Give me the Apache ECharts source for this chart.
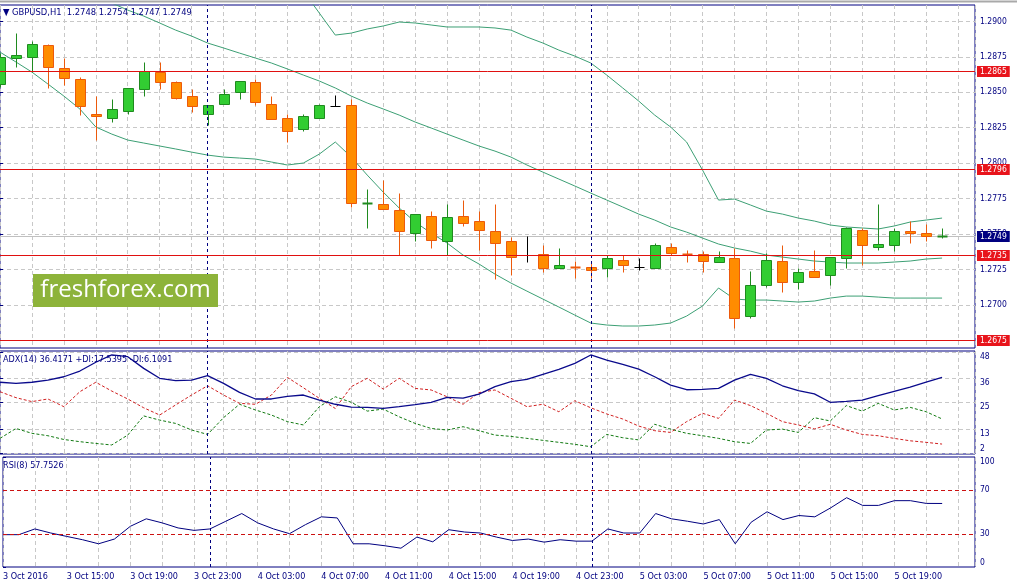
<!DOCTYPE html>
<html>
<head>
<meta charset="utf-8">
<script src="https://cdn.jsdelivr.net/npm/echarts@6/dist/echarts.min.js"></script>
<style>
html,body{margin:0;padding:0;background:#ffffff;}
#chart{width:1017px;height:587px;}
</style>
</head>
<body>
<div id="chart"></div>
<script>
// ---------------- data ----------------
const symbol = 'GBPUSD';
const timeframe = 'H1';
const year = '2016';
const times = [
  '3 Oct 11:00','3 Oct 12:00','3 Oct 13:00','3 Oct 14:00','3 Oct 15:00','3 Oct 16:00','3 Oct 17:00','3 Oct 18:00',
  '3 Oct 19:00','3 Oct 20:00','3 Oct 21:00','3 Oct 22:00','3 Oct 23:00',
  '4 Oct 00:00','4 Oct 01:00','4 Oct 02:00','4 Oct 03:00','4 Oct 04:00','4 Oct 05:00','4 Oct 06:00','4 Oct 07:00',
  '4 Oct 08:00','4 Oct 09:00','4 Oct 10:00','4 Oct 11:00','4 Oct 12:00','4 Oct 13:00','4 Oct 14:00','4 Oct 15:00',
  '4 Oct 16:00','4 Oct 17:00','4 Oct 18:00','4 Oct 19:00','4 Oct 20:00','4 Oct 21:00','4 Oct 22:00','4 Oct 23:00',
  '5 Oct 00:00','5 Oct 01:00','5 Oct 02:00','5 Oct 03:00','5 Oct 04:00','5 Oct 05:00','5 Oct 06:00','5 Oct 07:00',
  '5 Oct 08:00','5 Oct 09:00','5 Oct 10:00','5 Oct 11:00','5 Oct 12:00','5 Oct 13:00','5 Oct 14:00','5 Oct 15:00',
  '5 Oct 16:00','5 Oct 17:00','5 Oct 18:00','5 Oct 19:00','5 Oct 20:00','5 Oct 21:00','5 Oct 22:00'
];
const open = [1.2856,1.2874,1.2875,1.2883,1.2867,1.2859,1.2835,1.2832,1.2837,1.2852,1.2864,1.2857,1.2847,1.2835,1.2842,1.2850,
  1.2857,1.2842,1.2832,1.2824,1.2832,1.2840,1.2841,1.2771,1.2771,1.2767,1.2751,1.2763,1.2745,1.2763,1.2759,1.2752,
  1.2745,1.2735,1.2736,1.2726,1.2727,1.2727,1.2726,1.2732,1.2727,1.2726,1.2741,1.2736,1.2736,1.2730,1.2733,1.2692,
  1.2714,1.2731,1.2716,1.2724,1.2721,1.2733,1.2753,1.2741,1.2742,1.2752,1.2751,1.2748];
const high = [1.2878,1.2892,1.2886,1.2884,1.2874,1.2861,1.2847,1.2845,1.2853,1.2871,1.2871,1.2858,1.2852,1.2841,1.2852,1.2858,
  1.2859,1.2847,1.2835,1.2835,1.2842,1.2848,1.2845,1.2782,1.2788,1.2779,1.2764,1.2766,1.2771,1.2774,1.2766,1.2771,
  1.2748,1.2749,1.2742,1.2740,1.2731,1.2730,1.2735,1.2735,1.2733,1.2744,1.2744,1.2739,1.2738,1.2738,1.2740,1.2724,
  1.2737,1.2742,1.2726,1.2739,1.2734,1.2755,1.2754,1.2771,1.2754,1.2759,1.2757,1.2754];
const low = [1.2854,1.2868,1.2864,1.2853,1.2855,1.2834,1.2816,1.2829,1.2835,1.2847,1.2852,1.2845,1.2836,1.2827,1.2842,1.2845,
  1.2841,1.2831,1.2815,1.2823,1.2832,1.2840,1.2769,1.2754,1.2768,1.2735,1.2745,1.2740,1.2735,1.2756,1.2739,1.2718,
  1.2721,1.2730,1.2723,1.2726,1.2719,1.2719,1.2720,1.2723,1.2725,1.2726,1.2735,1.2730,1.2723,1.2730,1.2684,1.2691,
  1.2713,1.2709,1.2711,1.2720,1.2714,1.2726,1.2728,1.2739,1.2738,1.2744,1.2745,1.2747];
const close = [1.2875,1.2876,1.2884,1.2868,1.2860,1.2840,1.2833,1.2838,1.2853,1.2865,1.2857,1.2846,1.2840,1.2841,1.2849,1.2858,
  1.2843,1.2831,1.2823,1.2833,1.2841,1.2840,1.2772,1.2772,1.2768,1.2752,1.2764,1.2746,1.2762,1.2758,1.2753,1.2744,
  1.2734,1.2735,1.2726,1.2728,1.2726,1.2725,1.2733,1.2728,1.2727,1.2742,1.2737,1.2735,1.2731,1.2734,1.2691,1.2714,
  1.2732,1.2716,1.2723,1.2720,1.2734,1.2754,1.2742,1.2743,1.2752,1.2751,1.2749,1.2749];

const bbUpper = [null,null,null,null,null,null,null,null,null,null,null,null,null,null,null,null,null,null,
  1.29369,1.29213,1.29058,1.28903,1.28917,1.28946,1.28967,1.28995,1.28988,1.28974,1.2896,1.2896,1.2896,1.28953,
  1.28938,1.28889,1.28847,1.28797,1.28755,1.28706,1.28621,1.2853,1.28438,1.28339,1.28255,1.28149,1.27951,1.2774,
  1.27747,1.27705,1.27662,1.27641,1.27613,1.27592,1.27564,1.2755,1.27543,1.27536,1.27557,1.27585,1.27599,1.27613];
const bbMiddle = [null,null,null,null,null,null,
  1.29178,1.29129,1.29079,1.29037,1.28988,1.28938,1.28896,1.28847,1.28812,1.28776,1.28741,1.28706,1.28664,1.28621,
  1.28579,1.2853,1.28473,1.28424,1.28382,1.28339,1.2829,1.28248,1.28205,1.28163,1.28121,1.28085,1.28043,1.27987,
  1.27937,1.27888,1.27839,1.27789,1.2774,1.27691,1.27641,1.27599,1.2755,1.27514,1.27472,1.2743,1.27402,1.2738,
  1.27352,1.27338,1.27324,1.2731,1.27303,1.27296,1.27296,1.27296,1.27303,1.2731,1.27324,1.27331];
const bbLower = [1.28783,1.28713,1.28642,1.28558,1.28473,1.28382,1.28255,1.28205,1.28163,1.28142,1.28121,1.281,
  1.28078,1.28057,1.28043,1.28036,1.28029,1.28008,1.27987,1.28001,1.28064,1.28149,1.28043,1.27916,1.27796,1.27684,
  1.27585,1.27507,1.27437,1.27352,1.27289,1.27218,1.27155,1.27098,1.27042,1.26986,1.26929,1.26873,1.26859,1.26852,
  1.26852,1.26859,1.26873,1.26922,1.26993,1.2712,1.27042,1.27035,1.27035,1.27028,1.27021,1.27028,1.27049,1.27063,
  1.27063,1.27056,1.27049,1.27049,1.27049,1.27049];

const adx = [34.2,33.7,34.2,35.2,36.7,39.3,43.3,46.6,45.8,40.5,36.0,34.9,35.2,37.2,33.7,29.6,26.6,26.6,27.8,28.4,
  26.1,24.2,22.9,22.8,22.3,23.1,24.0,25.1,27.3,27.0,28.8,32.2,34.5,35.5,37.8,40.1,42.8,46.6,44.3,42.3,
  40.2,36.7,32.9,30.8,31.0,31.4,35.2,37.8,36.0,32.6,30.4,28.9,25.1,25.5,26.1,28.1,30.1,32.0,34.3,36.4171];
const plusDI = [8.7,13.2,11.0,9.9,8.2,7.2,6.4,5.7,10.2,18.9,17.0,15.5,12.5,10.5,18.1,24.2,21.6,19.3,16.3,14.8,
  23.1,27.6,25.1,21.1,22.0,18.5,15.5,13.2,12.5,14.0,12.2,10.2,9.6,8.7,7.8,6.9,6.0,4.9,10.5,9.0,
  8.0,15.1,12.9,11.0,9.9,8.7,7.2,6.4,12.5,12.9,11.4,18.1,16.6,23.6,21.1,24.6,21.6,22.8,20.8,17.5395];
const minusDI = [29.9,27.2,25.4,26.6,23.1,29.9,34.2,30.2,26.6,22.6,19.3,23.9,28.4,32.6,28.4,24.6,24.2,28.4,36.4,31.7,
  26.9,22.3,32.2,36.0,31.1,36.0,31.4,30.7,27.6,24.2,29.5,30.7,26.9,23.1,24.2,20.8,25.8,22.6,19.8,17.5,
  14.3,12.2,11.4,16.3,20.1,17.8,26.1,23.6,20.1,16.3,14.8,13.0,15.1,12.5,10.5,9.9,8.7,7.6,6.9,6.1091];
const rsi = [29.4,29.4,34.6,30.9,27.8,24.8,21.1,25.4,37.0,43.8,40.1,35.5,33.3,34.6,41.6,48.6,40.1,34.6,30.3,38.5,
  45.6,44.6,21.1,21.1,19.3,17.1,27.2,22.9,33.9,31.8,30.9,27.2,24.1,25.4,22.6,24.8,23.5,23.5,34.6,30.9,
  30.9,48.6,43.8,41.6,39.1,43.1,21.1,40.7,50.2,43.1,46.8,45.6,53.8,63.0,56.0,56.0,60.3,60.3,57.8,57.7526];

const priceLevels = [1.2865, 1.2796, 1.2735, 1.2675];
const priceTicks = [1.2700, 1.2725, 1.2750, 1.2775, 1.2800, 1.2825, 1.2850, 1.2875, 1.2900];
const adxTicks = [2, 13, 25, 36, 48];
const rsiTicks = [0, 30, 70, 100];
const rsiLevels = [70, 30];
const watermark = 'freshforex.com';

// ---------------- style ----------------
const FONT = 'Tahoma, "DejaVu Sans Condensed", "Liberation Sans", sans-serif';
const NAVY = '#000080';
const GRIDC = '#c8c8c8';
const BULL_FILL = '#32cd32', BULL_EDGE = '#1f8a1f';
const BEAR_FILL = '#ff8c00', BEAR_EDGE = '#ec5a0c';
const BAND = '#3c9f74';
const LEVEL_RED = '#e01010';
const BOX_RED = '#e8141b';

const N = times.length;
const XMAX = N + 1.0625;
const separators = times.map((t, i) => t.endsWith('00:00') ? i : null).filter(v => v !== null);
const last = N - 1;

function pair(arr) { return arr.map((v, i) => [i, v]); }

function renderCandle(params, api) {
  const i = api.value(0), o = api.value(1), h = api.value(2), l = api.value(3), c = api.value(4);
  const pO = api.coord([i, o]), pC = api.coord([i, c]);
  const pH = api.coord([i, h]), pL = api.coord([i, l]);
  const cx = Math.round(pO[0]) + 0.5;
  const half = Math.round(api.size([1, 0])[0] * 0.3);
  const yTop = Math.round(Math.min(pO[1], pC[1])) + 0.5;
  const yBot = Math.round(Math.max(pO[1], pC[1])) + 0.5;
  const doji = Math.abs(c - o) < 1e-9;
  const up = c > o;
  const stroke = doji ? '#000000' : (up ? BULL_EDGE : BEAR_EDGE);
  const fill = up ? BULL_FILL : BEAR_FILL;
  const children = [{
    type: 'line',
    shape: { x1: cx, y1: Math.round(pH[1]) + 0.5, x2: cx, y2: Math.round(pL[1]) + 0.5 },
    style: { stroke: stroke, lineWidth: 1 }
  }];
  if (doji || yBot - yTop < 1.5) {
    children.push({
      type: 'line',
      shape: { x1: cx - half, y1: yTop, x2: cx + half, y2: yTop },
      style: { stroke: stroke, lineWidth: doji ? 1 : 2 }
    });
  } else {
    children.push({
      type: 'rect',
      shape: { x: cx - half, y: yTop, width: 2 * half, height: yBot - yTop },
      style: { fill: fill, stroke: stroke, lineWidth: 1 }
    });
  }
  return { type: 'group', children: children };
}

// a horizontal price level, positioned through the y axis scale, spanning the plot width, with a value box on the price scale
function makeLevelRenderer(lineColor, boxColor) {
  return function (params, api) {
    const v = api.value(0);
    const p = api.coord([0, v]);
    const cs = params.coordSys;
    const y = Math.round(p[1]) + 0.5;
    return {
      type: 'group',
      children: [
        { type: 'line', shape: { x1: cs.x, y1: y, x2: cs.x + cs.width, y2: y },
          style: { stroke: lineColor, lineWidth: 1 } },
        { type: 'text', x: cs.x + cs.width + 2, y: y,
          style: { text: v.toFixed(4), fill: '#ffffff', backgroundColor: boxColor,
            font: '8.5px ' + FONT, padding: [1, 3, 0, 3], lineHeight: 10, align: 'left', verticalAlign: 'middle' } }
      ]
    };
  };
}

function levelSeries(name, value, lineColor, boxColor, z) {
  return {
    name: name, type: 'custom', xAxisIndex: 0, yAxisIndex: 0, clip: false, z: z, silent: true,
    renderItem: makeLevelRenderer(lineColor, boxColor),
    encode: { y: 0 },
    data: [[value]]
  };
}

const gridStyle = { show: true, borderColor: NAVY, borderWidth: 1, backgroundColor: 'transparent' };
const grids = [
  Object.assign({ left: -2, right: 42, top: 5, height: 343 }, gridStyle),
  Object.assign({ left: -2, right: 42, top: 351, height: 103 }, gridStyle),
  Object.assign({ left: -2, right: 42, top: 457, height: 110 }, gridStyle)
];

function xAxisFor(idx, showLabels) {
  return {
    type: 'value', gridIndex: idx, min: 0, max: XMAX, interval: 2,
    axisLine: { show: false }, axisTick: { show: false },
    splitLine: { show: true, lineStyle: { color: GRIDC, type: [4, 3], width: 1 } },
    axisLabel: {
      show: showLabels, color: NAVY, fontFamily: FONT, fontSize: 9, align: 'left', margin: 5,
      showMinLabel: true, showMaxLabel: true,
      formatter: function (v) {
        if (Math.abs(v - Math.round(v)) > 1e-6) return '';
        const k = Math.round(v);
        if (k % 4 !== 0 || k > last) return '';
        if (k === 0) return times[0].split(' ').slice(0, 2).join(' ') + ' ' + year;
        return times[k];
      }
    }
  };
}

const labelBase = { color: NAVY, fontFamily: FONT, fontSize: 8.5, margin: 5 };

const sepLines = separators.map(v => ({ xAxis: v }));
const sepStyle = { color: NAVY, type: [3, 3], width: 1 };

const header = '▼ ' + symbol + ',' + timeframe + '  ' +
  [open[last], high[last], low[last], close[last]].map(v => v.toFixed(4)).join(' ');
const adxHeader = 'ADX(14) ' + adx[last].toFixed(4) + ' +DI:' + plusDI[last].toFixed(4) + ' -DI:' + minusDI[last].toFixed(4);
const rsiHeader = 'RSI(8) ' + rsi[last].toFixed(4);

const series = [
  {
    name: 'BB upper', type: 'line', xAxisIndex: 0, yAxisIndex: 0, data: pair(bbUpper),
    showSymbol: false, symbol: 'none', connectNulls: false, z: 2,
    lineStyle: { color: BAND, width: 1 },
    markLine: { silent: true, symbol: 'none', animation: false, label: { show: false },
      lineStyle: sepStyle, data: sepLines }
  },
  {
    name: 'BB middle', type: 'line', xAxisIndex: 0, yAxisIndex: 0, data: pair(bbMiddle),
    showSymbol: false, symbol: 'none', connectNulls: false, z: 2,
    lineStyle: { color: BAND, width: 1 }
  },
  {
    name: 'BB lower', type: 'line', xAxisIndex: 0, yAxisIndex: 0, data: pair(bbLower),
    showSymbol: false, symbol: 'none', z: 2, lineStyle: { color: BAND, width: 1 }
  },
  levelSeries('Bid', close[last], '#c0c0c0', NAVY, 1)
];
priceLevels.forEach((v, k) => series.push(levelSeries('Level ' + (k + 1), v, LEVEL_RED, BOX_RED, 5)));
series.push(
  {
    name: 'Candles', type: 'custom', xAxisIndex: 0, yAxisIndex: 0, clip: true, z: 3,
    renderItem: renderCandle,
    encode: { x: 0, y: [1, 2, 3, 4] },
    data: times.map((t, i) => [i, open[i], high[i], low[i], close[i]])
  },
  {
    name: 'ADX', type: 'line', xAxisIndex: 1, yAxisIndex: 1, data: pair(adx),
    showSymbol: false, symbol: 'none', z: 4, lineStyle: { color: '#0a0a8c', width: 1.3 },
    markLine: { silent: true, symbol: 'none', animation: false, label: { show: false },
      lineStyle: sepStyle, data: sepLines }
  },
  {
    name: '+DI', type: 'line', xAxisIndex: 1, yAxisIndex: 1, data: pair(plusDI),
    showSymbol: false, symbol: 'none', z: 3, lineStyle: { color: '#127a12', width: 1, type: [3, 2] }
  },
  {
    name: '-DI', type: 'line', xAxisIndex: 1, yAxisIndex: 1, data: pair(minusDI),
    showSymbol: false, symbol: 'none', z: 3, lineStyle: { color: '#d02020', width: 1, type: [3, 2] }
  },
  {
    name: 'RSI', type: 'line', xAxisIndex: 2, yAxisIndex: 2, data: pair(rsi),
    showSymbol: false, symbol: 'none', z: 3, lineStyle: { color: NAVY, width: 1 },
    markLine: { silent: true, symbol: 'none', animation: false, label: { show: false },
      data: sepLines.map(d => Object.assign({ lineStyle: sepStyle }, d))
        .concat(rsiLevels.map(v => ({ yAxis: v, lineStyle: { color: '#cc1111', type: [4, 3], width: 1 } }))) }
  }
);

const chart = echarts.init(document.getElementById('chart'), null, { renderer: 'canvas' });
chart.setOption({
  animation: false,
  backgroundColor: '#ffffff',
  textStyle: { fontFamily: FONT },
  title: [
    { text: header, left: 3, top: 8, padding: 0, textStyle: { color: NAVY, fontFamily: FONT, fontSize: 9.3, fontWeight: 'normal' } },
    { text: adxHeader, left: 3, top: 355, padding: 0, textStyle: { color: NAVY, fontFamily: FONT, fontSize: 9, fontWeight: 'normal' } },
    { text: rsiHeader, left: 3, top: 461, padding: 0, textStyle: { color: NAVY, fontFamily: FONT, fontSize: 9, fontWeight: 'normal' } }
  ],
  grid: grids,
  xAxis: [xAxisFor(0, false), xAxisFor(1, false), xAxisFor(2, true)],
  yAxis: [
    {
      type: 'value', gridIndex: 0, position: 'right', min: 1.26697, max: 1.29115,
      axisLine: { show: false },
      axisTick: { show: true, length: 3, lineStyle: { color: NAVY }, customValues: priceTicks },
      axisLabel: Object.assign({ customValues: priceTicks, formatter: v => v.toFixed(4) }, labelBase),
      splitLine: { show: true, lineStyle: { color: GRIDC, type: [4, 3], width: 1 } }
    },
    {
      type: 'value', gridIndex: 1, position: 'right', min: 1.6, max: 48.4,
      axisLine: { show: false },
      axisTick: { show: true, length: 3, lineStyle: { color: NAVY }, customValues: adxTicks },
      axisLabel: Object.assign({ customValues: adxTicks, verticalAlign: 'top', verticalAlignMinLabel: 'bottom',
        formatter: v => String(v) }, labelBase),
      splitLine: { show: true, lineStyle: { color: GRIDC, type: [4, 3], width: 1 } }
    },
    {
      type: 'value', gridIndex: 2, position: 'right', min: 0, max: 100,
      axisLine: { show: false },
      axisTick: { show: true, length: 3, lineStyle: { color: NAVY }, customValues: rsiTicks },
      axisLabel: Object.assign({ customValues: rsiTicks, verticalAlign: 'middle',
        verticalAlignMinLabel: 'bottom', verticalAlignMaxLabel: 'top', formatter: v => String(v) }, labelBase),
      splitLine: { show: false }
    }
  ],
  graphic: [
    { type: 'line', shape: { x1: 0, y1: 1.5, x2: 1017, y2: 1.5 }, style: { stroke: '#a9a9a9', lineWidth: 2 }, silent: true },
    { type: 'rect', shape: { x: 33, y: 274, width: 185, height: 33 }, style: { fill: '#8db33a' }, z: 50, silent: true },
    { type: 'text', x: 125.5, y: 290.5, z: 51, silent: true,
      style: { text: watermark, fill: '#ffffff', font: '24px "Open Sans", "Noto Sans", sans-serif', align: 'center', verticalAlign: 'middle' } }
  ],
  series: series
});
</script>
</body>
</html>
